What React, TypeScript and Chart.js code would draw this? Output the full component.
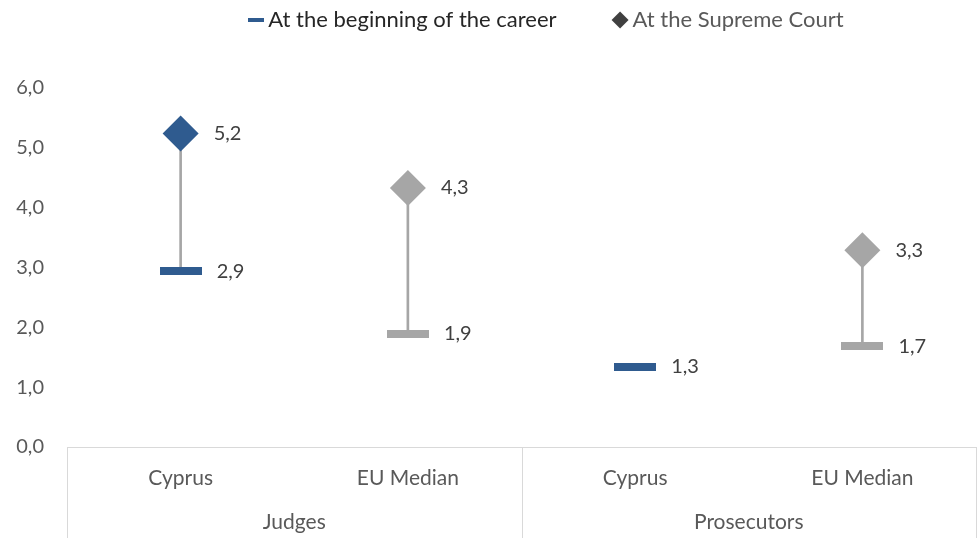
import React, { useEffect, useRef } from "react";
import { Chart, registerables } from "chart.js";

Chart.register(...registerables);

const categories = ["Cyprus", "EU Median", "Cyprus", "EU Median"];
const groups = ["Judges", "Prosecutors"];
const beginningValues: (number | null)[] = [2.94, 1.89, 1.34, 1.68];
const supremeValues: (number | null)[] = [5.24, 4.33, null, 3.29];
const yTicks = [0, 1, 2, 3, 4, 5, 6];
const legendLabels = ["At the beginning of the career", "At the Supreme Court"];

const BLUE = "#2F5B8F";
const GRAY = "#A6A6A6";
const FONT = "Lato";

if (typeof document !== "undefined") {
  document.body.style.margin = "0";
  document.documentElement.style.overflow = "hidden";
  document.body.style.overflow = "hidden";
}

function makeRect(w: number, h: number, color: string) {
  const c = document.createElement("canvas");
  c.width = w;
  c.height = h;
  const g = c.getContext("2d")!;
  g.fillStyle = color;
  g.fillRect(0, 0, w, h);
  return c;
}

const fmt = (v: number) => v.toFixed(1).replace(".", ",");

export default function App() {
  const ref = useRef<HTMLCanvasElement>(null);
  useEffect(() => {
    const blueBar = makeRect(42, 8, BLUE);
    const grayBar = makeRect(42, 8, GRAY);
    const legendDash = makeRect(16, 4, BLUE);
    const colorFor = (i: number) => (i % 2 === 0 ? BLUE : GRAY);

    const labelsPlugin = {
      id: "valueLabels",
      afterDatasetsDraw(chart: any) {
        const ctx = chart.ctx;
        ctx.save();
        ctx.font = `20px ${FONT}`;
        ctx.fillStyle = "#404040";
        ctx.textAlign = "left";
        ctx.textBaseline = "middle";
        [1, 2].forEach((di) => {
          const meta = chart.getDatasetMeta(di);
          const data = chart.data.datasets[di].data as (number | null)[];
          meta.data.forEach((el: any, i: number) => {
            const v = data[i];
            if (v == null) return;
            const off = di === 1 ? 36 : 33;
            ctx.fillText(fmt(v), el.x + off, el.y);
          });
        });
        ctx.restore();
      },
    };

    const boxPlugin = {
      id: "categoryBox",
      afterDraw(chart: any) {
        const ctx = chart.ctx;
        const x = chart.scales.x;
        const area = chart.chartArea;
        const mid = (x.getPixelForValue(1) + x.getPixelForValue(2)) / 2;
        ctx.save();
        ctx.strokeStyle = "#D9D9D9";
        ctx.lineWidth = 1;
        [area.left, mid, area.right].forEach((px: number) => {
          const p = Math.min(Math.round(px) + 0.5, chart.width - 0.5);
          ctx.beginPath();
          ctx.moveTo(p, area.bottom);
          ctx.lineTo(p, chart.height);
          ctx.stroke();
        });
        ctx.restore();
      },
    };

    const legendPlace = {
      id: "legendPlace",
      beforeInit(chart: any) {
        const orig = chart.legend.fit;
        chart.legend.fit = function () {
          orig.bind(chart.legend)();
          this.height = 88;
        };
      },
      afterLayout(chart: any) {
        const lg = chart.legend;
        lg.top -= 53;
        lg.bottom -= 53;
        lg.left += 61;
        lg.right += 61;
      },
    };

    const chart = new Chart(ref.current!, {
      data: {
        labels: categories,
        datasets: [
          {
            type: "bar",
            label: "range",
            data: beginningValues.map((b, i) =>
              b == null || supremeValues[i] == null ? null : [b, supremeValues[i] as number]
            ) as any,
            backgroundColor: GRAY,
            barThickness: 2,
            order: 3,
          },
          {
            type: "line",
            label: legendLabels[0],
            data: beginningValues,
            showLine: false,
            pointStyle: categories.map((_, i) => (i % 2 === 0 ? blueBar : grayBar)) as any,
            pointBackgroundColor: categories.map((_, i) => colorFor(i)),
            order: 1,
          },
          {
            type: "line",
            label: legendLabels[1],
            data: supremeValues,
            showLine: false,
            pointStyle: "rectRot",
            pointRadius: 18,
            pointBorderWidth: 0,
            pointBackgroundColor: categories.map((_, i) => colorFor(i)),
            pointBorderColor: categories.map((_, i) => colorFor(i)),
            order: 2,
          },
        ],
      } as any,
      options: {
        animation: false,
        responsive: false,
        maintainAspectRatio: false,
        devicePixelRatio: 1,
        events: [],
        layout: { autoPadding: false, padding: { left: 0, right: 1, top: 0, bottom: 4 } },
        plugins: {
          tooltip: { enabled: false },
          legend: {
            display: true,
            position: "top",
            labels: {
              usePointStyle: true,
              boxHeight: 12,
              boxWidth: 3,
              padding: 62,
              font: { family: FONT, size: 22 },
              generateLabels: () => [
                {
                  text: legendLabels[0],
                  pointStyle: legendDash,
                  fillStyle: BLUE,
                  strokeStyle: BLUE,
                  lineWidth: 0,
                  fontColor: "#262626",
                  datasetIndex: 1,
                  hidden: false,
                } as any,
                {
                  text: legendLabels[1],
                  pointStyle: "rectRot",
                  fillStyle: "#404040",
                  strokeStyle: "#404040",
                  lineWidth: 0,
                  fontColor: "#595959",
                  datasetIndex: 2,
                  hidden: false,
                } as any,
              ],
            },
          },
        },
        scales: {
          x: {
            type: "category",
            offset: true,
            afterFit: (s: any) => {
              s.height = 43;
              s.paddingRight = 0;
              s.paddingLeft = 0;
            },
            grid: { display: false, drawTicks: false },
            border: { display: true, color: "#D9D9D9" },
            ticks: {
              padding: 19,
              color: "#595959",
              font: { family: FONT, size: 21 },
            },
          },
          x2: {
            type: "category",
            position: "bottom",
            labels: groups,
            offset: true,
            afterFit: (s: any) => {
              s.height = 44;
              s.paddingRight = 0;
              s.paddingLeft = 0;
            },
            grid: { display: false, drawTicks: false },
            border: { display: false },
            ticks: {
              padding: 20,
              color: "#595959",
              font: { family: FONT, size: 21 },
            },
          },
          y: {
            min: yTicks[0],
            max: yTicks[yTicks.length - 1],
            afterFit: (s: any) => {
              s.width = 67;
            },
            afterBuildTicks: (s: any) => {
              s.ticks = yTicks.map((v) => ({ value: v }));
            },
            grid: { display: false, drawTicks: false },
            border: { display: false },
            ticks: {
              padding: 23,
              color: "#595959",
              font: { family: FONT, size: 20 },
              callback: (v: any) => fmt(Number(v)),
            },
          },
        },
      } as any,
      plugins: [labelsPlugin, boxPlugin, legendPlace],
    });
    return () => chart.destroy();
  }, []);
  return (
    <div style={{ width: 977, height: 538 }}>
      <canvas ref={ref} width={977} height={538} style={{ display: "block" }} />
    </div>
  );
}
